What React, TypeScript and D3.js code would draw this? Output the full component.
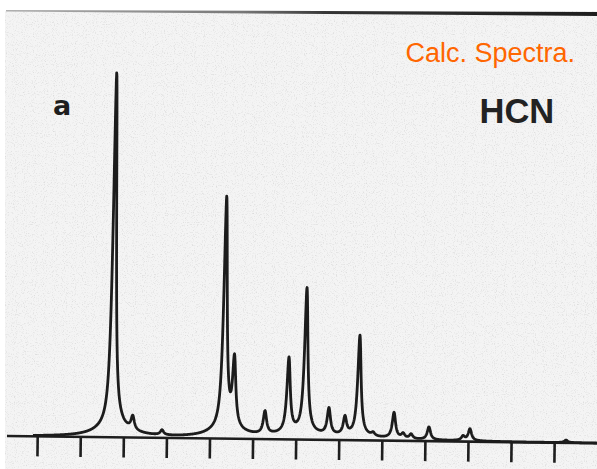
import React, { useEffect, useRef } from "react";
import * as d3 from "d3";

const W = 597;
const H = 469;

// line centres, in tick units (0 = first tick on the axis)
const peakPos = [1.732, 2.2, 2.883, 4.32, 4.545, 5.269, 5.81, 6.209, 6.752, 7.126, 7.451, 7.783, 8.264, 8.48, 8.665, 9.078, 9.872, 10.03, 12.263];
// relative intensities, strongest line = 100
const peakInt = [100, 3.8, 1.4, 65.2, 19.0, 6.4, 21.0, 40.7, 7.4, 5.0, 28.2, 0.9, 7.2, 1.3, 1.3, 3.6, 1.2, 3.3, 0.7];
const tickMarks = [0, 1, 2, 3, 4, 5, 6, 7, 8, 9, 10, 11, 12];

const panelLabel = "a";
const molecule = "HCN";
const note = "Calc. Spectra.";

// lorentzian half widths (tick units) and wing fraction
const gNarrow = 0.046;
const gWing = 0.42;
const wingFrac = 0.028;

function App() {
  const ref = useRef<SVGSVGElement>(null);

  useEffect(() => {
    const svg = d3.select(ref.current);
    svg.selectAll("*").remove();

    const x = d3.scaleLinear().domain([0, 12]).range([37.7, 554.7]);
    const y = d3.scaleLinear().domain([0, 100]).range([436, 72]);

    // paper
    const defs = svg.append("defs");
    const f = defs.append("filter").attr("id", "grain").attr("x", 0).attr("y", 0).attr("width", 1).attr("height", 1);
    f.append("feTurbulence").attr("type", "fractalNoise").attr("baseFrequency", 0.9).attr("numOctaves", 2).attr("seed", 4);
    f.append("feColorMatrix").attr("type", "matrix")
      .attr("values", "0 0 0 0 0.35  0 0 0 0 0.35  0 0 0 0 0.35  2.6 0 0 0 -1.35");
    const grad = defs.append("linearGradient").attr("id", "topedge");
    grad.append("stop").attr("offset", 0).attr("stop-color", "#b0b0b0");
    grad.append("stop").attr("offset", 0.4).attr("stop-color", "#777");
    grad.append("stop").attr("offset", 0.55).attr("stop-color", "#333");
    grad.append("stop").attr("offset", 1).attr("stop-color", "#1e1e1e");

    svg.append("rect").attr("width", W).attr("height", H).attr("fill", "#fff");
    svg.append("rect").attr("x", 5).attr("y", 11).attr("width", W - 5).attr("height", H - 11).attr("fill", "#f4f4f4");
    svg.append("rect").attr("x", 5).attr("y", 11).attr("width", W - 5).attr("height", H - 11)
      .attr("filter", "url(#grain)").attr("opacity", 0.3);
    svg.append("path")
      .attr("d", "M6,10 L597,12 L597,16 L6,11.6 Z")
      .attr("fill", "url(#topedge)");

    // plot, scanned slightly askew
    const g = svg.append("g").attr("transform", "rotate(0.7, 7, 436)");

    g.append("line")
      .attr("x1", 7).attr("x2", 600)
      .attr("y1", y(0)).attr("y2", y(0))
      .attr("stroke", "#1e1e1e").attr("stroke-width", 2.6);

    g.selectAll("line.tick")
      .data(tickMarks)
      .enter()
      .append("line")
      .attr("class", "tick")
      .attr("x1", d => x(d)).attr("x2", d => x(d))
      .attr("y1", y(0)).attr("y2", y(0) + 20)
      .attr("stroke", "#1e1e1e").attr("stroke-width", 2.6);

    const spectrum = (t: number) =>
      d3.sum(peakPos, (p, i) => {
        const dd = (t - p) * (t - p);
        return peakInt[i] * ((1 - wingFrac) * gNarrow * gNarrow / (gNarrow * gNarrow + dd) +
          wingFrac * gWing * gWing / (gWing * gWing + dd));
      });

    const xs = d3.range(x.invert(33), x.invert(600), 0.25 / 43.08);
    const line = d3.line<number>().x(t => x(t)).y(t => y(spectrum(t)));

    g.append("path")
      .datum(xs)
      .attr("d", line)
      .attr("fill", "none")
      .attr("stroke", "#1c1c1c")
      .attr("stroke-width", 2.8)
      .attr("stroke-linejoin", "round");

    svg.append("text")
      .attr("x", 53).attr("y", 115)
      .style("font-family", "'DejaVu Sans', sans-serif")
      .style("font-weight", "bold")
      .style("font-size", "27px")
      .attr("fill", "#1e1e1e")
      .text(panelLabel);

    svg.append("text")
      .attr("x", 479.5).attr("y", 122.7)
      .style("font-family", "'Liberation Sans', Arial, sans-serif")
      .style("font-weight", "bold")
      .style("font-size", "34.5px")
      .attr("fill", "#222")
      .text(molecule);

    svg.append("text")
      .attr("x", 405.5).attr("y", 62.3)
      .style("font-family", "'Liberation Sans', Arial, sans-serif")
      .style("font-size", "27px")
      .attr("fill", "#ff6600")
      .text(note);
  }, []);

  return (
    <svg ref={ref} width={W} height={H} style={{ position: "absolute", left: 0, top: 0 }} />
  );
}

export default App;
